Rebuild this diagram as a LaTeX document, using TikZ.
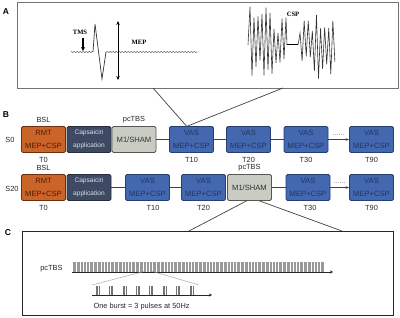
\documentclass[tikz,border=0pt]{standalone}
\usepackage{fontspec}
\setmainfont{Liberation Sans}
\newfontfamily\tracefont{Liberation Serif}
\usetikzlibrary{arrows.meta}

\definecolor{rmtfill}{HTML}{CB6428}
\definecolor{rmtedge}{HTML}{6E2E0C}
\definecolor{rmttext}{HTML}{4A1E08}
\definecolor{capfill}{HTML}{3E4A64}
\definecolor{capedge}{HTML}{262E40}
\definecolor{captext}{HTML}{D8DCE4}
\definecolor{shamfill}{HTML}{C9CCC3}
\definecolor{shamedge}{HTML}{55584F}
\definecolor{vasfill}{HTML}{4468B0}
\definecolor{vasedge}{HTML}{253F74}
\definecolor{vastext}{HTML}{23345A}
\definecolor{tracegray}{HTML}{333333}

\tikzset{
  stagebox/.style={draw, rounded corners=1.5pt, minimum width=44pt, minimum height=26pt,
    inner sep=0pt, align=center, font=\fontsize{7.6}{12.5}\selectfont, line width=0.8pt},
  rmtbox/.style={stagebox, fill=rmtfill, draw=rmtedge, text=rmttext},
  capbox/.style={stagebox, fill=capfill, draw=capedge, text=captext, font=\fontsize{6.6}{12.5}\selectfont},
  shambox/.style={stagebox, fill=shamfill, draw=shamedge, text=black!80},
  vasbox/.style={stagebox, fill=vasfill, draw=vasedge, text=vastext},
  tlabel/.style={font=\fontsize{7.4}{8}\selectfont, text=black!85},
  panel/.style={font=\bfseries\fontsize{8.5}{9}\selectfont},
  link/.style={draw=black!75, line width=0.7pt},
  tracelabel/.style={font=\tracefont\bfseries\fontsize{6.6}{7}\selectfont}
}

\begin{document}
\begin{tikzpicture}[x=1pt,y=-1pt]
\useasboundingbox (0,0) rectangle (400,318);

% panel A
\node[panel] (la) at (6,12) {A};
\draw[draw=black!55, line width=0.9pt] (17,2) rectangle (398,88);
\draw[tracegray, line width=0.4pt] plot[domain=71:93, samples=40] (\x,{52+0.5*sin(mod(\x,3)*120)});
\draw[tracegray, line width=0.7pt] (93,52) -- (95,24) -- (102,79) -- (106,52);
\draw[tracegray, line width=0.4pt] plot[domain=106:197, samples=140] (\x,{52+0.5*sin(mod(\x,3)*120)});
\node[tracelabel] (tms) at (80,32) {TMS};
\coordinate (tmstop) at (83,38);
\coordinate (tmshit) at (83,51);
\draw[-{Stealth[length=4pt,width=4pt]}, line width=1.2pt] (tmstop) -- (tmshit);
\coordinate (meptop) at (118,21);
\coordinate (mepbot) at (118,80);
\draw[{Stealth[length=4pt,width=3.5pt]}-{Stealth[length=4pt,width=3.5pt]}, line width=0.7pt] (meptop) -- (mepbot);
\node[tracelabel] (mep) at (139,42) {MEP};
\pgfmathsetseed{11}
\draw[tracegray, line width=0.6pt] (248,45)
  \foreach \i in {1,...,19}{ -- ({248+\i*2},{45+pow(-1,\i)*(10+30*rnd)}) } -- (287,45);
\draw[black, line width=1pt] (287,45) -- (298,45);
\draw[tracegray, line width=0.6pt] (298,45)
  \foreach \i in {1,...,18}{ -- ({298+\i*2.05},{45+pow(-1,\i)*(10+30*rnd)}) };
\node[tracelabel] (csp) at (293,14) {CSP};

% panel B
\node[panel] (lb) at (6,115) {B};
\node[tlabel] (s0) at (10,139.5) {S0};
\node[rmtbox] (rmt0) at (43.5,139.5) {RMT\\MEP+CSP};
\node[capbox] (cap0) at (89,139.5) {Capsaicin\\application};
\node[shambox] (m10) at (134,139.5) {M1/SHAM};
\node[vasbox] (v10a) at (191.5,139.5) {VAS\\MEP+CSP};
\node[vasbox] (v20a) at (248.5,139.5) {VAS\\MEP+CSP};
\node[vasbox] (v30a) at (306,139.5) {VAS\\MEP+CSP};
\node[vasbox] (v90a) at (371.5,139.5) {VAS\\MEP+CSP};
\node[tlabel] (bsl0) at (43.5,120) {BSL};
\node[tlabel] (tbs0) at (134,120) {pcTBS};
\node[tlabel] at (43.5,160) {T0};
\node[tlabel] at (191.5,160) {T10};
\node[tlabel] at (248.5,160) {T20};
\node[tlabel] at (306,160) {T30};
\node[tlabel] at (371.5,160) {T90};
\draw[link] (m10) -- (v10a);
\draw[link] (v10a) -- (v20a);
\draw[link] (v20a) -- (v30a);
\draw[link, -{Stealth[length=3.5pt]}] (v30a) -- node[above=0pt, font=\fontsize{7}{7}\selectfont, text=black!55]{......} (v90a);

\node[tlabel] (s20) at (12,189) {S20};
\node[rmtbox] (rmt20) at (43.5,187.5) {RMT\\MEP+CSP};
\node[capbox] (cap20) at (89,187.5) {Capsaicin\\application};
\node[vasbox] (v10b) at (147.5,187.5) {VAS\\MEP+CSP};
\node[vasbox] (v20b) at (203.5,187.5) {VAS\\MEP+CSP};
\node[shambox] (m120) at (249.5,187.5) {M1/SHAM};
\node[vasbox] (v30b) at (308,187.5) {VAS\\MEP+CSP};
\node[vasbox] (v90b) at (371.5,187.5) {VAS\\MEP+CSP};
\node[tlabel] (bsl20) at (43.5,168) {BSL};
\node[tlabel] (tbs20) at (249.5,168) {pcTBS};
\node[tlabel] at (43.5,208) {T0};
\node[tlabel] at (153,208) {T10};
\node[tlabel] at (203.5,208) {T20};
\node[tlabel] at (310,208) {T30};
\node[tlabel] at (371.5,208) {T90};
\draw[link] (cap20) -- (v10b);
\draw[link] (v10b) -- (v20b);
\draw[link] (m120) -- (v30b);
\draw[link, -{Stealth[length=3.5pt]}] (v30b) -- node[above=0pt, font=\fontsize{7}{7}\selectfont, text=black!55]{......} (v90b);

% zoom lines
\coordinate (azl) at (153,88);
\coordinate (azr) at (283,88);
\draw[link] (azl) -- ([xshift=-5pt]v10a.north);
\draw[link] (azr) -- ([xshift=-4pt]v10a.north);
\coordinate (czl) at (189,231);
\coordinate (czr) at (342,231);
\draw[link] ([xshift=-3pt]m120.south) -- (czl);
\draw[link] ([xshift=10pt]m120.south) -- (czr);

% panel C
\node[panel] (lc) at (8,233) {C};
\draw[black!85, line width=0.8pt] (22,231) rectangle (393,315);
\node[tlabel, anchor=east] (tbsc) at (66,269) {pcTBS};
\coordinate (trainstart) at (72,272);
\coordinate (trainend) at (333,272);
\draw[black!85, line width=0.5pt, -{Stealth[length=3pt,width=3pt]}] (trainstart) -- (trainend);
\foreach \b in {0,...,59}
  \foreach \p in {0,1.2,2.4}
    \draw[black!40, line width=0.3pt] ({73+\b*4.2+\p},262) -- ({73+\b*4.2+\p},272);
\draw[black!40, line width=0.4pt] (146,271) -- (92,285);
\draw[black!40, line width=0.4pt] (151,271) -- (199,285);
\coordinate (burststart) at (92,295);
\coordinate (burstend) at (212,295);
\draw[black!85, line width=0.5pt, -{Stealth[length=3pt,width=3pt]}] (burststart) -- (burstend);
\foreach \b in {0,...,7}
  \foreach \p in {0,1.5,3}
    \draw[black!55, line width=0.35pt] ({96+\b*13.4+\p},286) -- ({96+\b*13.4+\p},295);
\node[tlabel, anchor=west] (burst) at (90,307) {One burst = 3 pulses at 50Hz};
\end{tikzpicture}
\end{document}
